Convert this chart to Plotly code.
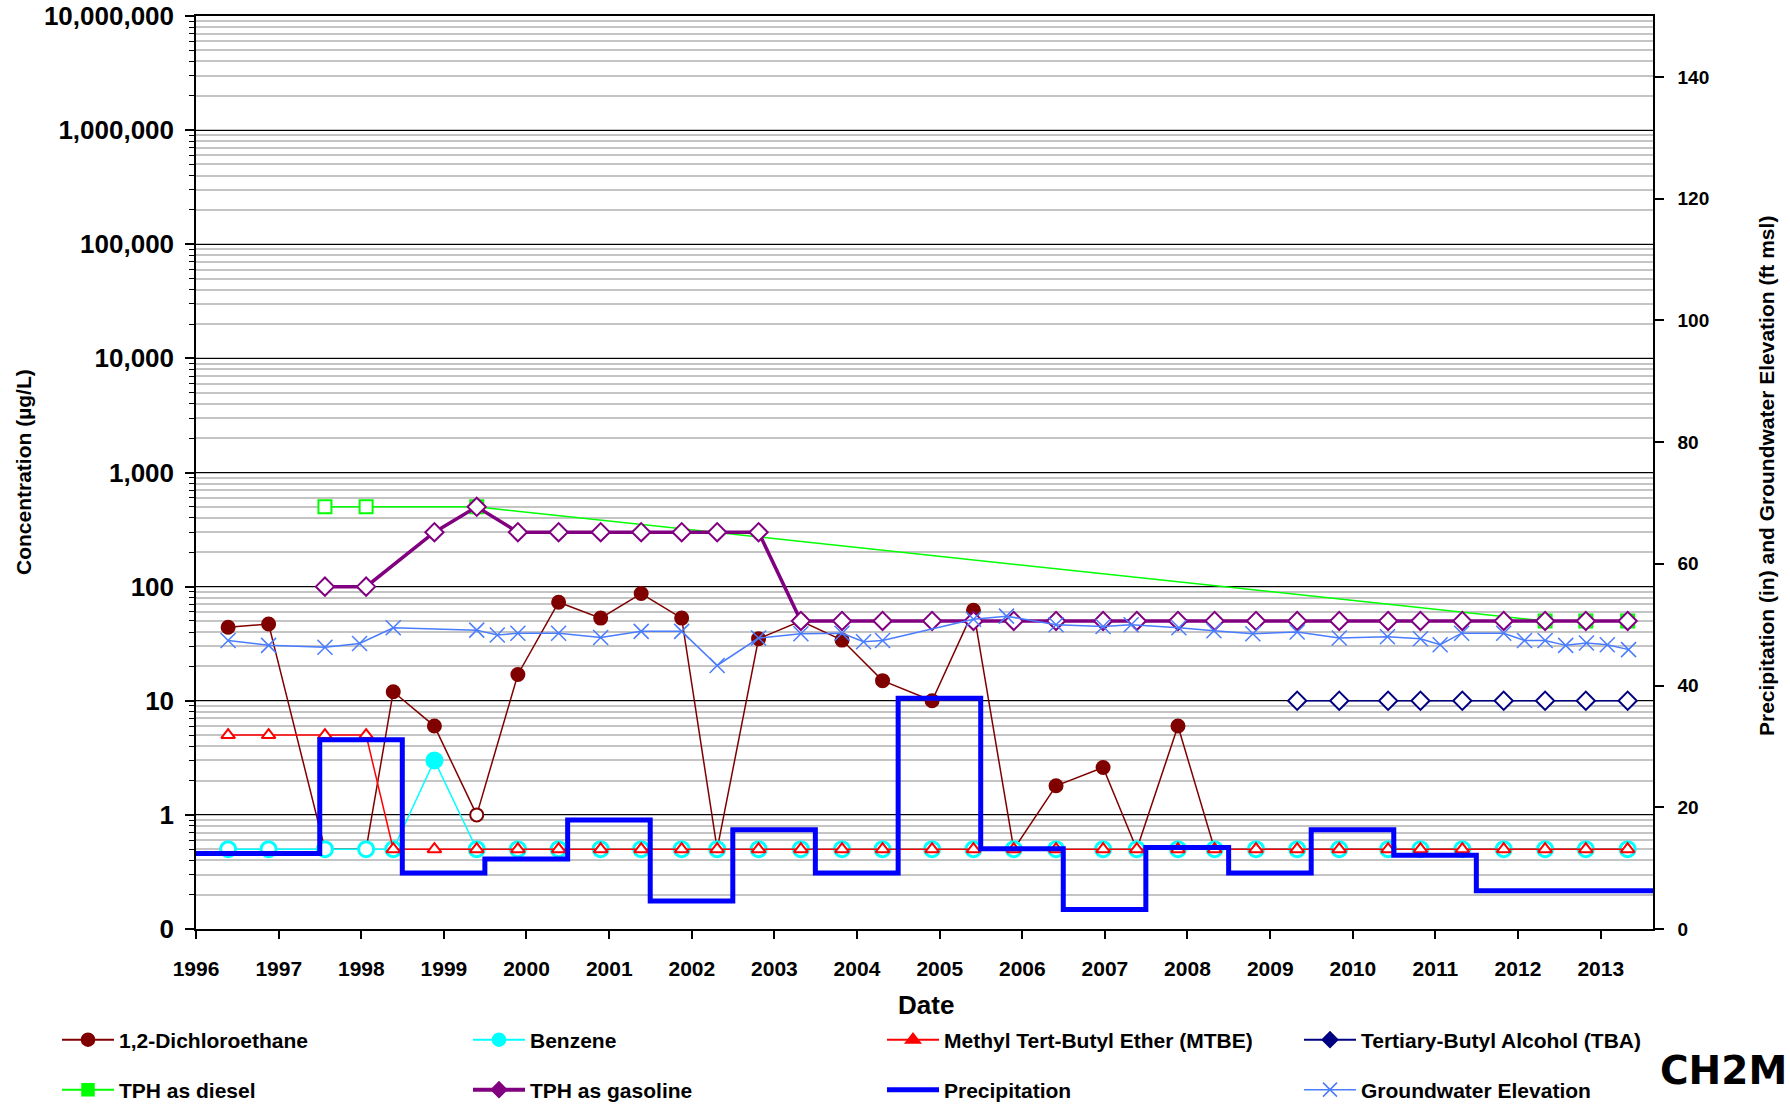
import plotly.graph_objects as go

# ---------------- data ----------------
sample_dates = [
    "1996-05-22", "1996-11-17", "1997-07-24", "1998-01-22", "1998-05-22",
    "1998-11-20", "1999-05-26", "1999-11-24", "2000-05-22", "2000-11-24",
    "2001-05-22", "2001-11-17", "2002-04-23", "2002-10-23", "2003-04-28",
    "2003-10-27", "2004-04-23", "2004-11-28", "2005-05-30", "2005-11-24",
    "2006-05-30", "2006-12-24", "2007-05-22", "2007-11-20", "2008-04-30",
    "2008-10-30", "2009-04-30", "2009-11-02", "2010-06-06", "2010-10-27",
    "2011-04-30", "2011-10-30", "2012-04-30", "2012-10-27", "2013-04-30",
]

dca = [44, 47, 0.5, 0.5, 12, 6, 1, 17, 73, 53,
       87, 53, 0.5, 35, 50, 34, 15, 10, 62, 0.5,
       1.8, 2.6, 0.5, 6, 0.5, 0.5, 0.5, 0.5, 0.5, 0.5,
       0.5, 0.5, 0.5, 0.5, 0.5]
dca_nd = [0, 0, 1, 1, 0, 0, 1, 0, 0, 0,
          0, 0, 1, 0, 0, 0, 0, 0, 0, 1,
          0, 0, 1, 0, 1, 1, 1, 1, 1, 1,
          1, 1, 1, 1, 1]

benzene = [0.5, 0.5, 0.5, 0.5, 0.5, 3, 0.5, 0.5, 0.5, 0.5,
           0.5, 0.5, 0.5, 0.5, 0.5, 0.5, 0.5, 0.5, 0.5, 0.5,
           0.5, 0.5, 0.5, 0.5, 0.5, 0.5, 0.5, 0.5, 0.5, 0.5,
           0.5, 0.5, 0.5, 0.5, 0.5]
benzene_nd = [1, 1, 1, 1, 1, 0, 1, 1, 1, 1,
              1, 1, 1, 1, 1, 1, 1, 1, 1, 1,
              1, 1, 1, 1, 1, 1, 1, 1, 1, 1,
              1, 1, 1, 1, 1]

mtbe = [5, 5, 5, 5, 0.5, 0.5, 0.5, 0.5, 0.5, 0.5,
        0.5, 0.5, 0.5, 0.5, 0.5, 0.5, 0.5, 0.5, 0.5, 0.5,
        0.5, 0.5, 0.5, 0.5, 0.5, 0.5, 0.5, 0.5, 0.5, 0.5,
        0.5, 0.5, 0.5, 0.5, 0.5]

tba = [None] * 26 + [10, 10, 10, 10, 10, 10, 10, 10, 10]

tphd = [None, None, 500, 500, None, None, 500] + [None] * 25 + [50, 50, 50]

tphg = [None, None, 100, 100, None, 300, 500, 300, 300, 300,
        300, 300, 300, 300, 50, 50, 50, 50, 50, 50,
        50, 50, 50, 50, 50, 50, 50, 50, 50, 50,
        50, 50, 50, 50, 50]

precip_dates = [
    "1996-01-01", "1997-07-01", "1998-07-01", "1999-07-01", "2000-07-01",
    "2001-07-01", "2002-07-01", "2003-07-01", "2004-07-01", "2005-07-01",
    "2006-07-01", "2007-07-01", "2008-07-01", "2009-07-01", "2010-07-01",
    "2011-07-01", "2012-07-01", "2013-09-01",
]
precip = [12.4, 31.1, 9.2, 11.5, 17.9, 4.6, 16.3, 9.2, 37.9, 13.2,
          3.2, 13.4, 9.2, 16.3, 12.1, 6.3, 6.3, 6.3]

gw_dates = [
    "1996-05-22", "1996-11-17", "1997-07-24", "1997-12-24", "1998-05-22",
    "1999-05-26", "1999-08-25", "1999-11-24", "2000-05-22", "2000-11-24",
    "2001-05-22", "2001-11-17", "2002-04-23", "2002-10-23", "2003-04-28",
    "2003-10-27", "2004-01-30", "2004-04-23", "2005-05-30", "2005-10-23",
    "2006-05-30", "2006-12-24", "2007-04-27", "2007-11-24", "2008-04-27",
    "2008-10-16", "2009-04-30", "2009-11-02", "2010-06-03", "2010-10-27",
    "2011-01-22", "2011-04-27", "2011-10-30", "2012-01-30", "2012-04-30",
    "2012-07-30", "2012-10-30", "2013-01-30", "2013-05-04",
]
gw = [47.4, 46.6, 46.3, 46.9, 49.5, 49.1, 48.3, 48.6, 48.6, 47.9,
      48.9, 48.9, 43.3, 47.8, 48.5, 48.6, 47.2, 47.4, 50.9, 51.4,
      50.0, 49.7, 50.0, 49.5, 49.0, 48.5, 48.8, 47.8, 48.0, 47.7,
      46.7, 48.6, 48.6, 47.4, 47.4, 46.6, 47.0, 46.7, 45.9]

conc_tickvals = [0.1, 1, 10, 100, 1000, 10000, 100000, 1000000, 10000000]
conc_ticktext = ["0", "1", "10", "100", "1,000", "10,000", "100,000",
                 "1,000,000", "10,000,000"]
right_tickvals = [0, 20, 40, 60, 80, 100, 120, 140]

# ---------------- styling ----------------
FONT = "Liberation Sans, Arial, sans-serif"
C_DCA = "#800000"
C_BZ = "#00FFFF"
C_MTBE = "#FF0000"
C_TBA = "#000080"
C_TPHD = "#00FF00"
C_TPHG = "#800080"
C_PRE = "#0000FF"
C_GW = "#4A7CFF"

W, H = 1790, 1104
ML, MR, MT, MB = 196, 137, 16, 175
PW, PH = W - ML - MR, H - MT - MB


def px_x(px):
    return (px - ML) / PW


def px_y(py):
    return (H - MB - py) / PH


def fills(color, nd):
    return ["white" if f else color for f in nd]


fig = go.Figure()

# data traces
fig.add_trace(go.Scatter(
    x=sample_dates, y=dca, mode="lines+markers", showlegend=False,
    line=dict(color=C_DCA, width=1.5),
    marker=dict(symbol="circle", size=13, color=fills(C_DCA, dca_nd),
                line=dict(color=C_DCA, width=2))))
fig.add_trace(go.Scatter(
    x=sample_dates, y=benzene, mode="lines+markers", showlegend=False,
    line=dict(color=C_BZ, width=1.5),
    marker=dict(symbol="circle", size=15, color=fills(C_BZ, benzene_nd),
                line=dict(color=C_BZ, width=3))))
fig.add_trace(go.Scatter(
    x=sample_dates, y=mtbe, mode="lines+markers", showlegend=False,
    line=dict(color=C_MTBE, width=1.5),
    marker=dict(symbol="triangle-up", size=12, color="white",
                line=dict(color=C_MTBE, width=2))))
fig.add_trace(go.Scatter(
    x=sample_dates, y=tba, mode="lines+markers", showlegend=False,
    line=dict(color=C_TBA, width=1.5),
    marker=dict(symbol="diamond", size=14, color="white",
                line=dict(color=C_TBA, width=2))))
fig.add_trace(go.Scatter(
    x=sample_dates, y=tphd, mode="lines+markers", showlegend=False,
    connectgaps=True, line=dict(color=C_TPHD, width=1.5),
    marker=dict(symbol="square", size=13, color="white",
                line=dict(color=C_TPHD, width=2))))
fig.add_trace(go.Scatter(
    x=sample_dates, y=tphg, mode="lines+markers", showlegend=False,
    connectgaps=True, line=dict(color=C_TPHG, width=3.5),
    marker=dict(symbol="diamond", size=14, color="white",
                line=dict(color=C_TPHG, width=2))))
fig.add_trace(go.Scatter(
    x=precip_dates, y=precip, mode="lines", showlegend=False, yaxis="y2",
    line=dict(color=C_PRE, width=5, shape="hv")))
fig.add_trace(go.Scatter(
    x=gw_dates, y=gw, mode="lines+markers", showlegend=False, yaxis="y2",
    line=dict(color=C_GW, width=1.5),
    marker=dict(symbol="x-thin", size=15, line=dict(color=C_GW, width=1.5))))

# legend entries: one legend per entry, laid out as 2 rows x 4 columns
legend_specs = [
    ("1,2-Dichloroethane", C_DCA, "circle", 13, 2),
    ("Benzene", C_BZ, "circle", 13, 2),
    ("Methyl Tert-Butyl Ether (MTBE)", C_MTBE, "triangle-up", 13, 2),
    ("Tertiary-Butyl Alcohol (TBA)", C_TBA, "diamond", 12, 2),
    ("TPH as diesel", C_TPHD, "square", 12, 2),
    ("TPH as gasoline", C_TPHG, "diamond", 12, 4),
    ("Precipitation", C_PRE, None, 0, 5),
    ("Groundwater Elevation", C_GW, "x-thin", 14, 1.5),
]
col_px = [57, 468, 882, 1299]
row_py = [1040, 1090]

legend_layouts = {}
for i, (name, col, sym, sz, lw) in enumerate(legend_specs):
    lg = "legend" if i == 0 else f"legend{i + 1}"
    if sym is None:
        fig.add_trace(go.Scatter(x=[None], y=[None], mode="lines", name=name,
                                 legend=lg, line=dict(color=col, width=lw)))
    else:
        fig.add_trace(go.Scatter(
            x=[None], y=[None], mode="lines+markers", name=name, legend=lg,
            line=dict(color=col, width=lw),
            marker=dict(symbol=sym, size=sz, color=col,
                        line=dict(color=col, width=1.5))))
    legend_layouts[lg] = dict(
        x=px_x(col_px[i % 4]), y=px_y(row_py[i // 4]),
        xanchor="left", yanchor="middle", orientation="h",
        font=dict(family=FONT, size=21, color="black", weight="bold"),
        itemwidth=52, bgcolor="rgba(0,0,0,0)", borderwidth=0)

fig.update_layout(
    width=W, height=H, autosize=False,
    margin=dict(l=ML, r=MR, t=MT, b=MB, pad=0, autoexpand=False),
    paper_bgcolor="white", plot_bgcolor="white",
    font=dict(family=FONT, color="black"),
    showlegend=True,
    xaxis=dict(
        type="date", range=["1996-01-01", "2013-08-20"],
        tick0="1996-01-01", dtick="M12", tickformat="%Y",
        ticks="outside", ticklen=8, tickwidth=1.5, tickcolor="black",
        showline=True, linecolor="black", linewidth=1.5, mirror=True,
        showgrid=False, zeroline=False, automargin=False,
        tickfont=dict(family=FONT, size=21, color="black", weight="bold"),
        ticklabelstandoff=12,
    ),
    yaxis=dict(
        type="log", range=[-1, 7],
        tickvals=conc_tickvals, ticktext=conc_ticktext,
        ticks="outside", ticklen=9, tickwidth=1.5, tickcolor="black",
        showline=True, linecolor="black", linewidth=1.5,
        showgrid=True, gridcolor="black", gridwidth=1.2,
        minor=dict(dtick="D1", showgrid=True, gridcolor="#C4C4C4", gridwidth=1.5,
                   ticks="outside", ticklen=5, tickcolor="black", tickwidth=1.2),
        zeroline=False, automargin=False,
        tickfont=dict(family=FONT, size=26, color="black", weight="bold"),
        ticklabelstandoff=6,
    ),
    yaxis2=dict(
        overlaying="y", side="right", range=[0, 150],
        tickvals=right_tickvals, ticks="outside", ticklen=9, tickwidth=1.5,
        tickcolor="black", showline=True, linecolor="black", linewidth=1.5,
        showgrid=False, zeroline=False, automargin=False,
        tickfont=dict(family=FONT, size=19, color="black", weight="bold"),
        ticklabelstandoff=10,
    ),
    annotations=[
        dict(text="Date", xref="paper", yref="paper", x=px_x(926), y=px_y(1005),
             xanchor="center", yanchor="middle", showarrow=False,
             font=dict(family=FONT, size=26, color="black", weight="bold")),
        dict(text="Concentration (µg/L)", xref="paper", yref="paper",
             x=px_x(23), y=px_y(472), textangle=-90, xanchor="center",
             yanchor="middle", showarrow=False,
             font=dict(family=FONT, size=21, color="black", weight="bold")),
        dict(text="Precipitation (in) and Groundwater Elevation (ft msl)",
             xref="paper", yref="paper", x=px_x(1766), y=px_y(476), textangle=-90,
             xanchor="center", yanchor="middle", showarrow=False,
             font=dict(family=FONT, size=21, color="black", weight="bold")),
        dict(text="CH2M", xref="paper", yref="paper", x=px_x(1789), y=px_y(1070),
             xanchor="right", yanchor="middle", showarrow=False,
             font=dict(family="DejaVu Sans, sans-serif", size=39, color="black",
                       weight="bold")),
    ],
)
fig.update_layout(**legend_layouts)

fig.write_html(
    "out.html",
    config={"displayModeBar": False},
    post_script="document.body.style.margin='0';document.body.style.overflow='hidden';",
)
